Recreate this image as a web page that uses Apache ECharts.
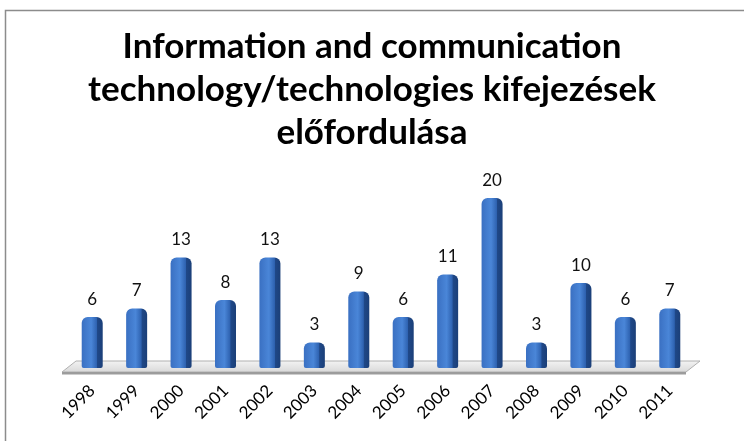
<!DOCTYPE html>
<html>
<head>
<meta charset="utf-8">
<script src="https://cdn.jsdelivr.net/npm/echarts@6/dist/echarts.min.js"></script>
<style>
  html, body { margin: 0; padding: 0; background: #fff; }
  #main { width: 744px; height: 441px; }
</style>
</head>
<body>
<div id="main"></div>
<script>
// évek és előfordulások
const years = ['1998', '1999', '2000', '2001', '2002', '2003', '2004', '2005', '2006', '2007', '2008', '2009', '2010', '2011'];
const counts = [6, 7, 13, 8, 13, 3, 9, 6, 11, 20, 3, 10, 6, 7];
const titleText = 'Information and communication\ntechnology/technologies kifejezések\nelőfordulása';

const chart = echarts.init(document.getElementById('main'));

// the grey "floor" under the bars
function renderFloor(params, api) {
    const first = api.coord([0, 0]);
    const band = api.size([1, 0])[0];
    const x0 = first[0] - band / 2 - 8;
    const x1 = x0 + band * years.length + 2;
    const y = first[1];
    const d = 14;
    return {
        type: 'group',
        children: [
            {
                type: 'polygon',
                shape: { points: [[x0, y + 4], [x0 + d, y - 7], [x1 + d, y - 7], [x1, y + 4]] },
                style: {
                    fill: new echarts.graphic.LinearGradient(0, 0, 0, 1, [
                        { offset: 0, color: '#f4f4f4' },
                        { offset: 1, color: '#d8d8d8' }
                    ]),
                    stroke: '#b0b0b0',
                    lineWidth: 1
                }
            },
            {
                type: 'polygon',
                shape: { points: [[x0, y + 4], [x1, y + 4], [x1, y + 6.5], [x0, y + 6.5]] },
                style: { fill: '#9c9c9c' }
            }
        ]
    };
}

chart.setOption({
    animation: false,
    title: {
        text: titleText,
        left: 'center',
        top: 20,
        textStyle: {
            fontFamily: 'Lato',
            fontWeight: 'bold',
            fontSize: 35,
            lineHeight: 43,
            color: '#000'
        }
    },
    graphic: [{
        type: 'rect',
        shape: { x: 5.5, y: 10.5, width: 760, height: 460 },
        style: { fill: null, stroke: '#8c8c8c', lineWidth: 1.5 },
        z: -10
    }],
    grid: { left: 70, right: 52, top: 155.5, bottom: 73 },
    xAxis: {
        type: 'category',
        data: years,
        axisLine: { show: false },
        axisTick: { show: false },
        axisLabel: {
            rotate: 45,
            margin: 20,
            fontFamily: 'Lato',
            fontSize: 17,
            color: '#000'
        }
    },
    yAxis: {
        type: 'value',
        min: 0,
        max: 25,
        show: false,
        splitLine: { show: false }
    },
    series: [
        {
            type: 'custom',
            renderItem: renderFloor,
            data: [[0, 0]],
            z: 1,
            silent: true
        },
        {
            type: 'bar',
            data: counts,
            barWidth: 21,
            z: 5,
            itemStyle: {
                borderRadius: [6, 6, 2, 2],
                color: new echarts.graphic.LinearGradient(0, 0, 1, 0, [
                    { offset: 0, color: '#3a70c2' },
                    { offset: 0.45, color: '#4a86d8' },
                    { offset: 0.72, color: '#2e62b0' },
                    { offset: 0.75, color: '#1f4888' },
                    { offset: 1, color: '#1b3f78' }
                ])
            },
            label: {
                show: true,
                position: 'top',
                distance: 9,
                fontFamily: 'Lato',
                fontSize: 17,
                color: '#111'
            }
        }
    ]
});
</script>
</body>
</html>
